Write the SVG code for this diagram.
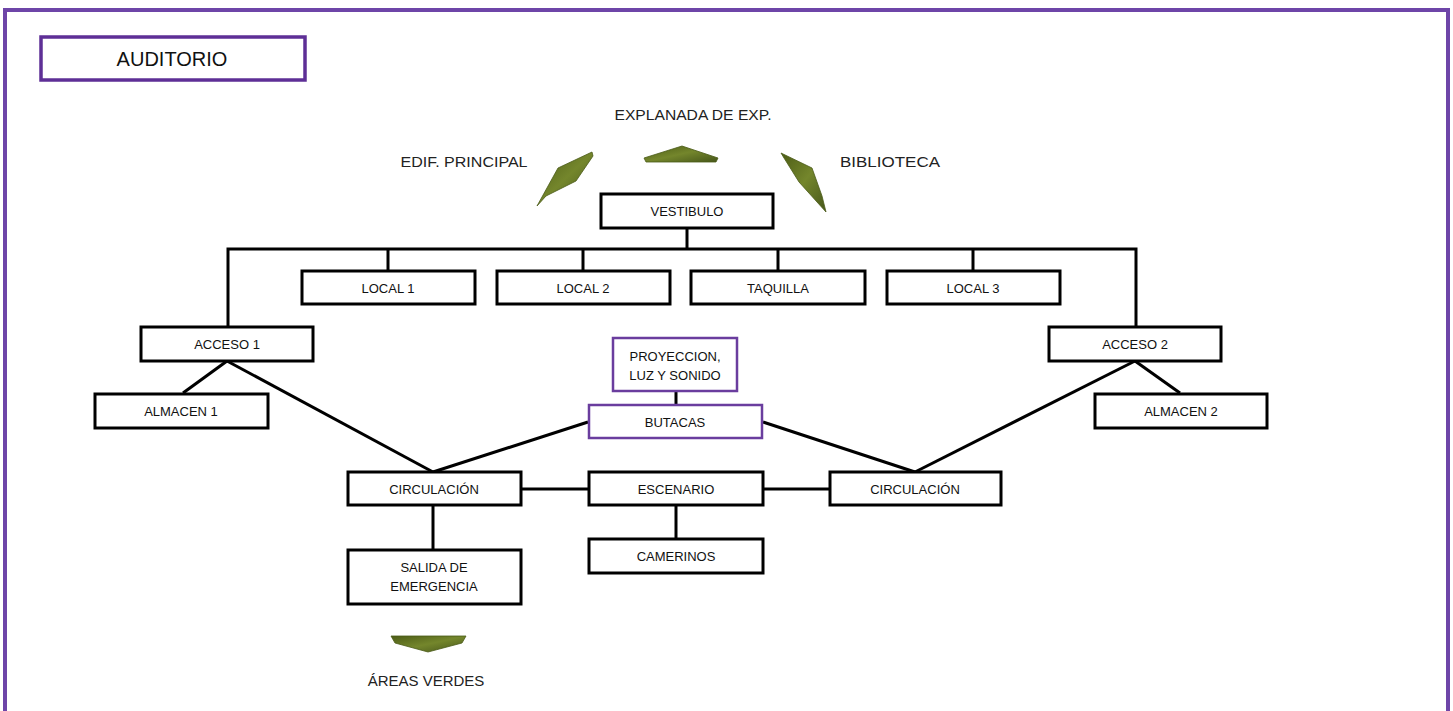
<svg xmlns="http://www.w3.org/2000/svg" width="1453" height="711" viewBox="0 0 1453 711">
<style>
.box{fill:#fff;stroke:#000;stroke-width:3}
.pbox{fill:#fff;stroke:#6a3d9e;stroke-width:2.5}
.t{font-family:"Liberation Sans",Arial,sans-serif;font-size:13px;fill:#111;text-anchor:middle;dominant-baseline:central}
.lbl{font-family:"Liberation Sans",Arial,sans-serif;font-size:15px;fill:#222;text-anchor:middle;dominant-baseline:central}
.ln{stroke:#000;stroke-width:3;fill:none}
.leaf{fill:url(#g);stroke:#4a5a18;stroke-width:0.8}
</style>
<defs>
<linearGradient id="g" x1="0" y1="0" x2="1" y2="1">
<stop offset="0" stop-color="#4c5c16"/>
<stop offset="0.5" stop-color="#74862c"/>
<stop offset="1" stop-color="#46561a"/>
</linearGradient>
</defs>
<rect x="0" y="0" width="1453" height="711" fill="#fff"/>
<rect x="5" y="10" width="1443" height="720" fill="none" stroke="#6e45a8" stroke-width="4"/>

<g id="titulo">
<rect x="41" y="37" width="264" height="43" fill="#fff" stroke="#5e2f96" stroke-width="3.5"/>
<text x="172" y="59" class="t" style="font-size:20px">AUDITORIO</text>
</g>

<g id="exteriores">
<text x="693" y="114" class="lbl" textLength="157" lengthAdjust="spacingAndGlyphs">EXPLANADA DE EXP.</text>
<text x="464" y="161" class="lbl" textLength="127" lengthAdjust="spacingAndGlyphs">EDIF. PRINCIPAL</text>
<text x="890" y="161" class="lbl" textLength="100" lengthAdjust="spacingAndGlyphs">BIBLIOTECA</text>
<polygon class="leaf" points="592,152 558,168 537,206 546,196 576,181 593,156"/>
<polygon class="leaf" points="644,158 682,146 718,158 716,162 646,162"/>
<polygon class="leaf" points="781,153 784,158 799,182 826,212 822,196 812,168"/>
<polygon class="leaf" points="391,636 466,636 462,643 428,652 395,643"/>
<text x="426" y="680" class="lbl">ÁREAS VERDES</text>
</g>

<g id="connectors">
<polyline class="ln" points="228,326 228,249 1136,249 1136,326"/>
<line class="ln" x1="687" y1="228" x2="687" y2="250"/>
<line class="ln" x1="388" y1="249" x2="388" y2="271"/>
<line class="ln" x1="583" y1="249" x2="583" y2="271"/>
<line class="ln" x1="778" y1="249" x2="778" y2="271"/>
<line class="ln" x1="973" y1="249" x2="973" y2="271"/>
<line class="ln" x1="227" y1="361" x2="183" y2="393"/>
<line class="ln" x1="227" y1="361" x2="433" y2="472"/>
<line class="ln" x1="588" y1="422" x2="433" y2="472"/>
<line class="ln" x1="763" y1="422" x2="915" y2="472"/>
<line class="ln" x1="1135" y1="361" x2="915" y2="472"/>
<line class="ln" x1="1135" y1="361" x2="1180" y2="393"/>
<line class="ln" x1="676" y1="391" x2="676" y2="405"/>
<line class="ln" x1="521" y1="489" x2="589" y2="489"/>
<line class="ln" x1="763" y1="489" x2="830" y2="489"/>
<line class="ln" x1="676" y1="505" x2="676" y2="539"/>
<line class="ln" x1="433" y1="505" x2="433" y2="550"/>
</g>

<g id="vestibulo"><rect class="box" x="601" y="194" width="172" height="34"/><text x="687" y="211" class="t">VESTIBULO</text></g>
<g id="local1"><rect class="box" x="302" y="271" width="173" height="33"/><text x="388" y="288" class="t">LOCAL 1</text></g>
<g id="local2"><rect class="box" x="497" y="271" width="173" height="33"/><text x="583" y="288" class="t">LOCAL 2</text></g>
<g id="taquilla"><rect class="box" x="691" y="271" width="174" height="33"/><text x="778" y="288" class="t">TAQUILLA</text></g>
<g id="local3"><rect class="box" x="887" y="271" width="173" height="33"/><text x="973" y="288" class="t">LOCAL 3</text></g>
<g id="acceso1"><rect class="box" x="141" y="327" width="172" height="34"/><text x="227" y="344" class="t">ACCESO 1</text></g>
<g id="acceso2"><rect class="box" x="1049" y="327" width="172" height="34"/><text x="1135" y="344" class="t">ACCESO 2</text></g>
<g id="almacen1"><rect class="box" x="95" y="394" width="173" height="34"/><text x="181" y="411" class="t">ALMACEN 1</text></g>
<g id="almacen2"><rect class="box" x="1095" y="394" width="172" height="34"/><text x="1181" y="411" class="t">ALMACEN 2</text></g>
<g id="proyeccion"><rect class="pbox" x="613" y="338" width="124" height="53"/><text x="675" y="356" class="t">PROYECCION,</text><text x="675" y="375" class="t">LUZ Y SONIDO</text></g>
<g id="butacas"><rect class="pbox" x="589" y="405" width="173" height="33"/><text x="675" y="422" class="t">BUTACAS</text></g>
<g id="circulacion1"><rect class="box" x="348" y="472" width="173" height="33"/><text x="434" y="489" class="t">CIRCULACIÓN</text></g>
<g id="escenario"><rect class="box" x="589" y="472" width="174" height="33"/><text x="676" y="489" class="t">ESCENARIO</text></g>
<g id="circulacion2"><rect class="box" x="830" y="472" width="171" height="33"/><text x="915" y="489" class="t">CIRCULACIÓN</text></g>
<g id="camerinos"><rect class="box" x="589" y="539" width="174" height="34"/><text x="676" y="556" class="t">CAMERINOS</text></g>
<g id="salida"><rect class="box" x="348" y="550" width="173" height="54"/><text x="434" y="567" class="t">SALIDA DE</text><text x="434" y="586" class="t">EMERGENCIA</text></g>
</svg>
